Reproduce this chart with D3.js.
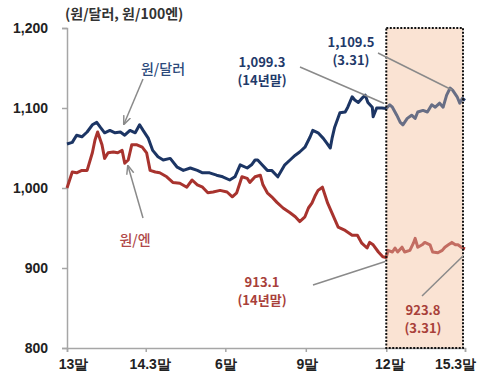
<!DOCTYPE html>
<html><head><meta charset="utf-8">
<script src="https://cdn.jsdelivr.net/npm/d3@7/dist/d3.min.js"></script>
<style>
html,body{margin:0;padding:0;background:#fff;}
svg{display:block;font-family:"Noto Sans CJK KR","Noto Sans",sans-serif;}
</style></head><body>
<svg id="c" width="500" height="390"></svg>
<script>
// x = days since 2013-12-31 (13말)
const tickDays   = [0, 90, 181, 273, 365, 455];
const tickLabels = ["13말", "14.3말", "6말", "9말", "12말", "15.3말"];
const yTicks     = [800, 900, 1000, 1100, 1200];
const yTickLabels= ["800", "900", "1,000", "1,100", "1,200"];

// 원/달러
const usdDays = [0,6,11,17,23,29,34,38,43,49,55,61,66,72,78,83,87,93,98,104,110,118,126,133,141,149,155,163,171,178,186,192,198,206,211,215,218,223,229,234,241,249,255,261,266,272,278,281,287,293,297,301,303,306,312,318,321,326,329,333,337,341,344,349,350,354,360,365,
  369,372,377,381,384,389,394,398,401,407,412,417,421,426,430,434,438,441,446,449,452,455];
const usdValues = [1055,1057,1066,1064,1070,1079,1082,1076,1069,1072,1069,1070,1066,1072,1069,1079,1072,1062,1047,1039,1035,1037,1026,1022,1025,1022,1019,1019,1016,1014,1010,1014,1029,1025,1029,1035,1035,1029,1022,1022,1014,1029,1035,1041,1045,1051,1064,1072,1069,1062,1056,1050,1062,1076,1094,1095,1101,1114,1110,1107,1112,1116,1107,1101,1089,1100,1100,1099.3,
  1104,1101,1091,1082,1079,1087,1091,1087,1095,1097,1095,1104,1101,1106,1101,1116,1125,1122,1114,1106,1112,1109.5];

// 원/100엔
const jpyDays = [0,6,11,17,23,29,32,35,40,43,47,53,58,63,66,70,74,80,86,91,95,101,106,114,121,129,137,143,149,155,161,167,175,183,189,194,200,206,209,215,221,224,229,234,240,247,255,261,266,272,276,280,284,287,292,295,298,304,310,318,326,332,337,343,346,350,356,361,365,
  367,372,375,378,383,386,392,396,398,401,406,409,415,418,424,429,432,436,440,444,447,452,455];
const jpyValues = [1000,1020,1019,1022,1022,1044,1060,1070,1054,1037,1044,1045,1044,1047,1031,1035,1054,1054,1051,1044,1022,1020,1019,1014,1007,1006,1001,1010,1004,1001,994,995,997,995,989,994,1014,1012,1007,1014,1016,1004,994,989,982,975,969,964,958,964,975,981,991,997,1001,991,981,966,951,947,941,941,931,925,932,929,920,914,913.1,
  922,920,925,920,926,920,922,931,937,926,929,932,929,920,919,922,926,929,932,929,929,925,923.8];

const svg = d3.select("#c");
const x = d3.scaleLinear().domain([0, 455]).range([67, 465]);
const y = d3.scaleLinear().domain([800, 1200]).range([348, 28]);

const navy = "#1c3564", red = "#a8332e", gray = "#8a8a8a";

// highlight box base
const bx0 = x(365), bx1 = x(455)-2;
svg.append("rect").attr("x", bx0).attr("y", y(1200)).attr("width", bx1-bx0).attr("height", y(800)-y(1200))
  .attr("fill", "#fce9dc");

// axes
const yAxis = d3.axisLeft(y).tickValues(yTicks).tickFormat((d,i)=>yTickLabels[i]).tickSize(5).tickPadding(14);
const gy = svg.append("g").attr("transform", `translate(${x(0)},0)`).call(yAxis);
gy.select(".domain").attr("stroke", "#a6a6a6").attr("stroke-width", 1.5);
gy.selectAll(".tick line").attr("stroke", "#a6a6a6").attr("stroke-width", 1.5);
gy.selectAll("text").attr("font-size", 14).attr("font-weight", "bold").attr("fill", "#222");

const xAxis = d3.axisBottom(x).tickValues(tickDays).tickFormat((d,i)=>tickLabels[i]).tickSize(4).tickPadding(7);
const gx = svg.append("g").attr("transform", `translate(0,${y(800)})`).call(xAxis);
gx.select(".domain").attr("stroke", "#a6a6a6").attr("stroke-width", 1.5);
gx.selectAll(".tick line").attr("stroke", "#a6a6a6").attr("stroke-width", 1.5);
gx.selectAll("text").attr("font-size", 14).attr("font-weight", "bold").attr("fill", "#222")
  .attr("dx", (d,i)=> [6,4,0,1,3,-10][i]);

// lines
const line = d3.line().x(d=>x(d[0])).y(d=>y(d[1]));
const usd = usdDays.map((d,i)=>[d, usdValues[i]]);
const jpy = jpyDays.map((d,i)=>[d, jpyValues[i]]);
svg.append("path").datum(usd).attr("d", line).attr("fill","none").attr("stroke", navy).attr("stroke-width", 3).attr("stroke-linejoin","round");
svg.append("path").datum(jpy).attr("d", line).attr("fill","none").attr("stroke", red).attr("stroke-width", 3).attr("stroke-linejoin","round");

// box overlay + dotted border
svg.append("rect").attr("x", bx0).attr("y", y(1200)).attr("width", bx1-bx0).attr("height", y(800)-y(1200))
  .attr("fill", "#f7d9c4").attr("fill-opacity", 0.35)
  .attr("stroke", "#111").attr("stroke-width", 2).attr("stroke-dasharray", "2,1.5");

// title
svg.append("text").attr("x", 65).attr("y", 19).attr("font-size", 14).attr("font-weight","bold").attr("fill","#333")
  .text("(원/달러, 원/100엔)");

// markers
const defs = svg.append("defs");
defs.append("marker").attr("id","ah").attr("viewBox","0 0 10 10").attr("refX",9).attr("refY",5)
  .attr("markerWidth",6).attr("markerHeight",6).attr("orient","auto")
  .append("path").attr("d","M0,1 L10,5 L0,9").attr("fill","none").attr("stroke", gray).attr("stroke-width",1.6);

function leader(x1,y1,x2,y2,arrow){
  const l = svg.append("line").attr("x1",x1).attr("y1",y1).attr("x2",x2).attr("y2",y2)
    .attr("stroke", gray).attr("stroke-width", 1.5);
  if(arrow) l.attr("marker-end","url(#ah)");
}
function label(tx,ty,lines,color,weight,size){
  const t = svg.append("text").attr("text-anchor","middle").attr("font-size",size||13).attr("font-weight",weight||"bold").attr("fill",color);
  lines.forEach((s,i)=> t.append("tspan").attr("x",tx).attr("y",ty+i*18).text(s));
}

// series labels
label(163, 74, ["원/달러"], "#2c4a7c", "500", 14);
leader(143, 79, 124, 124, true);
label(135, 245, ["원/엔"], "#b04848", "500", 14);
leader(143, 218, 128, 166, true);

// value callouts
label(262, 67, ["1,099.3", "(14년말)"], "#1f3a6a");
leader(300, 67, x(365)-2, y(1099.3)-5);
label(351, 47, ["1,109.5", "(3.31)"], "#1f3a6a");
leader(378, 53, x(438)+2, y(1125)+2);
label(262, 287, ["913.1", "(14년말)"], "#a8403a");
leader(313, 285, x(365)-1, y(913.1)+4);
label(423, 315, ["923.8", "(3.31)"], "#a8403a");
leader(422, 296, x(455)-2, y(923.8)+7);
</script>
</body></html>
